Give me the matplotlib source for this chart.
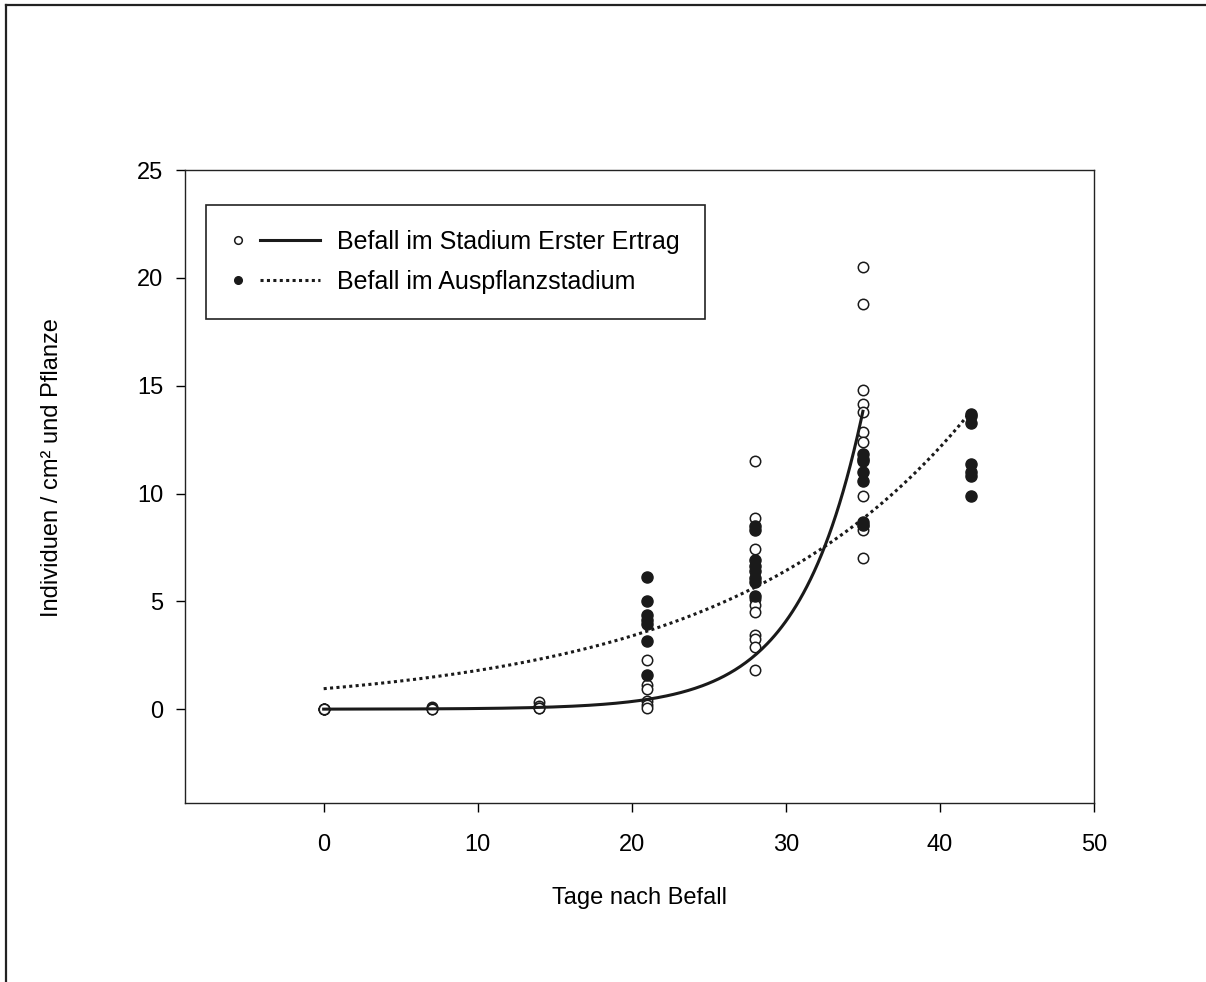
import numpy as np
import matplotlib
matplotlib.use('Agg')
import matplotlib.pyplot as plt
from matplotlib.lines import Line2D
from matplotlib.legend_handler import HandlerBase

plt.rcParams['font.family'] = ['Liberation Sans', 'DejaVu Sans']

# Befall im Stadium Erster Ertrag (offene Kreise)
ertrag_x = [0, 0, 0, 0, 0,
            7, 7, 7, 7,
            14, 14, 14, 14,
            21, 21, 21, 21, 21, 21,
            28, 28, 28, 28, 28, 28, 28, 28, 28, 28,
            35, 35, 35, 35, 35, 35, 35, 35, 35, 35, 35]
ertrag_y = [0, 0, 0, 0, 0,
            0.1, 0.05, 0, 0,
            0.35, 0.15, 0.05, 0.05,
            2.3, 1.1, 0.95, 0.4, 0.2, 0.05,
            11.5, 8.85, 7.45, 5.1, 4.85, 4.5, 3.45, 3.25, 2.9, 1.8,
            20.5, 18.8, 14.8, 14.15, 13.8, 12.85, 12.4, 9.9, 8.5, 8.3, 7.0]

# Befall im Auspflanzstadium (gefuellte Kreise)
auspfl_x = [21, 21, 21, 21, 21, 21, 21,
            28, 28, 28, 28, 28, 28, 28, 28,
            35, 35, 35, 35, 35, 35, 35,
            42, 42, 42, 42, 42, 42, 42]
auspfl_y = [6.15, 5.0, 4.35, 4.15, 3.95, 3.15, 1.6,
            8.5, 8.3, 6.9, 6.65, 6.4, 6.1, 5.9, 5.25,
            11.85, 11.6, 11.5, 11.0, 10.6, 8.7, 8.55,
            13.7, 13.6, 13.25, 11.35, 11.0, 10.8, 9.9]

# exponentielle Regression y = a * exp(b * x)
ertrag_fit = (0.0027, 0.244, 35)
auspfl_fit = (0.95, 0.0637, 42)

labels = ['Befall im Stadium Erster Ertrag', 'Befall im Auspflanzstadium']


class MarkerLineHandler(HandlerBase):
    # Kreis links, Linie rechts daneben (wie im Original)
    def create_artists(self, legend, orig_handle, xdescent, ydescent,
                       width, height, fontsize, trans):
        mk, ln = orig_handle
        y = height / 2 - ydescent
        m = Line2D([-xdescent + 0.08 * width], [y])
        m.update_from(mk)
        m.set_linestyle('none')
        m.set_markersize(5.5)
        m.set_transform(trans)
        l = Line2D([-xdescent + 0.33 * width, -xdescent + width], [y, y])
        l.update_from(ln)
        l.set_marker('')
        l.set_transform(trans)
        return [m, l]


fig = plt.figure(figsize=(12.06, 9.82), dpi=100)
ax = fig.add_axes([185 / 1206, 1 - 803 / 982, 909 / 1206, 633 / 982])

# Rahmen um die Abbildung
fig.add_artist(Line2D([6 / 1206, 1.0], [1 - 5 / 982, 1 - 5 / 982], color='#222222', lw=1.6))
fig.add_artist(Line2D([6 / 1206, 6 / 1206], [1 - 5 / 982, 0.0], color='#222222', lw=1.6))

pts_o, = ax.plot(ertrag_x, ertrag_y, 'o', ms=7.5, mfc='white', mec='#1a1a1a', mew=1.1, zorder=2)
pts_f, = ax.plot(auspfl_x, auspfl_y, 'o', ms=8.0, mfc='#1a1a1a', mec='#1a1a1a', mew=1.0, zorder=2)

a, b, xe = ertrag_fit
xs = np.linspace(0, xe, 300)
line_o, = ax.plot(xs, a * np.exp(b * xs), color='#1a1a1a', lw=2.2, zorder=3)
a, b, xe = auspfl_fit
xs = np.linspace(0, xe, 300)
line_f, = ax.plot(xs, a * np.exp(b * xs), color='#1a1a1a', lw=2.2,
                  linestyle=(0, (1, 1.1)), zorder=3)

ax.set_xlim(-9, 50)
ax.set_ylim(-4.35, 25)
ax.set_xticks(range(0, 51, 10))
ax.set_yticks(range(0, 26, 5))
ax.tick_params(direction='out', length=6.5, width=1.0, labelsize=17, pad=9,
               top=False, right=False)
ax.tick_params(axis='x', pad=16)
for s in ax.spines.values():
    s.set_linewidth(1.0)
    s.set_color('#222222')

ax.set_xlabel('Tage nach Befall', fontsize=17, labelpad=22)
ax.set_ylabel('Individuen / cm² und Pflanze', fontsize=17)
ax.yaxis.set_label_coords(-0.134, 0.53)

leg = ax.legend([(pts_o, line_o), (pts_f, line_f)], labels,
                handler_map={tuple: MarkerLineHandler()},
                loc='upper left', bbox_to_anchor=(21 / 909, 598 / 633),
                borderaxespad=0, fontsize=18, handlelength=3.55, handletextpad=0.7,
                borderpad=1.0, labelspacing=0.62, fancybox=False, framealpha=1,
                edgecolor='#222222')
leg.get_frame().set_linewidth(1.2)

fig.savefig('out.png', dpi=100)
